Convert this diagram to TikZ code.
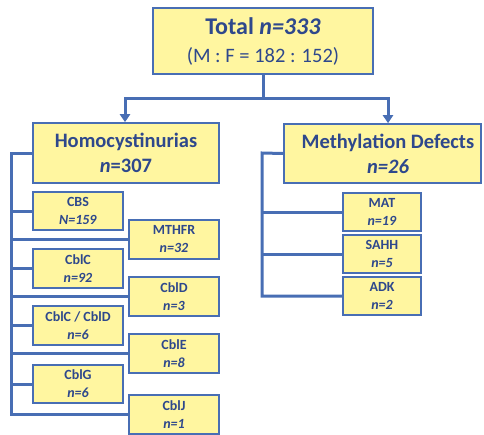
\documentclass[tikz,border=0pt]{standalone}
\usepackage{fontspec}
\setmainfont{Carlito}
\usetikzlibrary{arrows.meta}
\definecolor{boxfill}{RGB}{255,246,160}
\definecolor{boxline}{RGB}{72,110,180}
\definecolor{txt}{RGB}{46,72,140}
\tikzset{
  box/.style={draw=boxline, line width=1.6pt, fill=boxfill, text=txt, align=center, inner sep=0pt, font=\bfseries},
  bigbox/.style={box, font=\bfseries\fontsize{20.5}{25}\selectfont},
  smallbox/.style={box, minimum width=90pt, minimum height=38.5pt, font=\bfseries\fontsize{14}{18}\selectfont},
  mbox/.style={box, minimum width=78pt, minimum height=38pt, font=\bfseries\fontsize{14}{18}\selectfont},
  conn/.style={draw=boxline, line width=3pt},
  arr/.style={conn, -{Triangle[length=8pt,width=10pt]}}
}
\begin{document}
\begin{tikzpicture}[x=1pt,y=-1pt]
\useasboundingbox (0,0) rectangle (484,434);
% nodes
\node[box, minimum width=220pt, minimum height=66pt, font=\bfseries\fontsize{24}{28}\selectfont] (total) at (263,41)
  {Total \textit{n=333}\\{\mdseries\fontsize{20.5}{28}\selectfont (M : F = 182 : 152)}};
\node[bigbox, minimum width=186pt, minimum height=60pt] (homo) at (126,153) {Homocystinurias\\\textit{n}=307};
\node[bigbox, minimum width=197pt, minimum height=59pt] (meth) at (382.5,153.5) {\hspace*{11pt}Methylation Defects\\\hspace*{11pt}\textit{n=26}};
% left column
\node[smallbox] (cbs) at (78,211) {CBS\\\textit{N=159}};
\node[smallbox] (mthfr) at (174,239.5) {MTHFR\\\textit{n=32}};
\node[smallbox] (cblc) at (78,268.5) {CblC\\\textit{n=92}};
\node[smallbox] (cbld) at (174,296.5) {CblD\\\textit{n=3}};
\node[smallbox] (cblcd) at (78,325.5) {CblC / CblD\\\textit{n=6}};
\node[smallbox] (cble) at (174,353.5) {CblE\\\textit{n=8}};
\node[smallbox] (cblg) at (78,384) {CblG\\\textit{n=6}};
\node[smallbox] (cblj) at (174,414.5) {CblJ\\\textit{n=1}};
% right column
\node[mbox] (mat) at (382,212) {MAT\\\textit{n=19}};
\node[mbox] (sahh) at (382,254) {SAHH\\\textit{n=5}};
\node[mbox] (adk) at (382,296) {ADK\\\textit{n=2}};
% top connectors
\coordinate (split) at (263,98);
\coordinate (hl) at (125,98);
\coordinate (hr) at (388,98);
\draw[conn] (total.south) -- (split);
\draw[conn, line cap=rect] (hl) -- (hr);
\draw[arr] (hl) -- (hl |- homo.north);
\draw[arr] (hr) -- (hr |- meth.north);
% homocystinurias trunk
\coordinate (ht) at (11,153);
\draw[conn] (homo.west) -- (ht) -- (ht |- cblj.west) -- (cblj.west);
\foreach \n in {cbs,mthfr,cblc,cbld,cblcd,cble,cblg}
  \draw[conn] (ht |- \n.west) -- (\n.west);
% methylation trunk
\coordinate (mt) at (262,153);
\draw[conn] (meth.west) -- (mt) -- (mt |- adk.west) -- (adk.west);
\foreach \n in {mat,sahh}
  \draw[conn] (mt |- \n.west) -- (\n.west);
\end{tikzpicture}
\end{document}
